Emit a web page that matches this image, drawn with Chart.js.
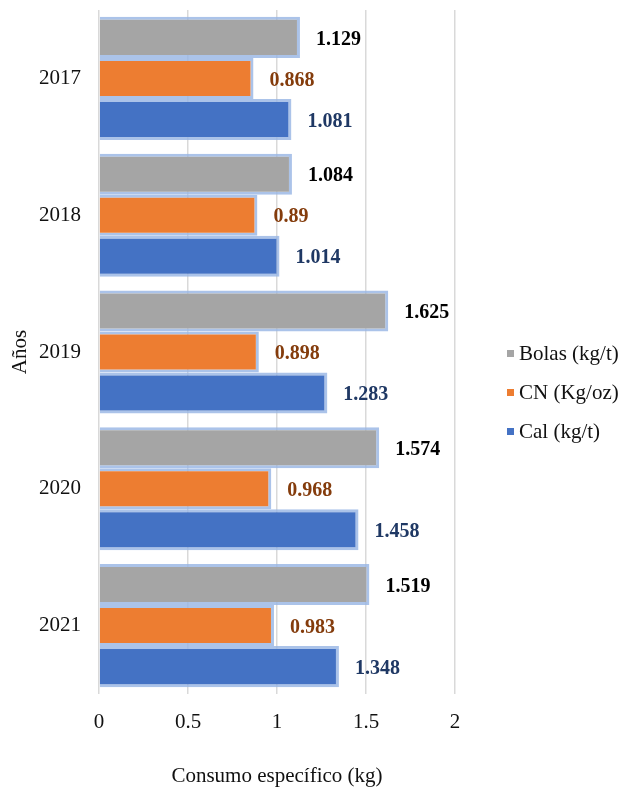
<!DOCTYPE html>
<html>
<head>
<meta charset="utf-8">
<script src="https://cdn.jsdelivr.net/npm/chart.js@4.4.1/dist/chart.umd.min.js"></script>
<style>
  html, body { margin: 0; padding: 0; background: #fff; }
</style>
</head>
<body>
<canvas id="chart" width="623" height="791"></canvas>
<script>
const years = ["2017", "2018", "2019", "2020", "2021"];
const bolas = [1.129, 1.084, 1.625, 1.574, 1.519];
const cn = [0.868, 0.89, 0.898, 0.968, 0.983];
const cal = [1.081, 1.014, 1.283, 1.458, 1.348];
const seriesNames = ["Bolas (kg/t)", "CN (Kg/oz)", "Cal (kg/t)"];
const barColors = ["#a5a5a5", "#ed7d31", "#4472c4"];
const labelColors = ["#000000", "#843c0c", "#1f3864"];

const SERIF = '"Liberation Serif", "Times New Roman", serif';

// ── value labels at bar ends ──────────────────────────────────────────────
const valueLabels = {
  id: "valueLabels",
  afterDatasetsDraw(chart) {
    const ctx = chart.ctx;
    ctx.save();
    ctx.font = "bold 20px " + SERIF;
    ctx.textAlign = "left";
    ctx.textBaseline = "middle";
    chart.data.datasets.forEach((ds, i) => {
      const meta = chart.getDatasetMeta(i);
      ctx.fillStyle = labelColors[i];
      meta.data.forEach((bar, j) => {
        ctx.fillText(String(ds.data[j]), bar.x + 16, bar.y + 2);
      });
    });
    ctx.restore();
  },
};

// ── legend on the right, centred on the page ─────────────────────────────
const sideLegend = {
  id: "sideLegend",
  afterDraw(chart) {
    const ctx = chart.ctx;
    ctx.save();
    ctx.font = "21px " + SERIF;
    ctx.textAlign = "left";
    ctx.textBaseline = "middle";
    chart.data.datasets.forEach((ds, i) => {
      const y = 353 + i * 39;
      ctx.fillStyle = barColors[i];
      ctx.fillRect(507, y - 3, 7, 7);
      ctx.fillStyle = "#111";
      ctx.fillText(ds.label, 519, y + 1);
    });
    ctx.restore();
  },
};

const glow = "rgba(150,180,228,0.8)";

new Chart(document.getElementById("chart"), {
  type: "bar",
  data: {
    labels: years,
    datasets: [
      { label: seriesNames[0], data: bolas, backgroundColor: barColors[0] },
      { label: seriesNames[1], data: cn, backgroundColor: barColors[1] },
      { label: seriesNames[2], data: cal, backgroundColor: barColors[2] },
    ].map((d) => ({
      ...d,
      borderColor: glow,
      borderWidth: 3,
      borderSkipped: "start",
      categoryPercentage: 0.9,
      barPercentage: 1.0,
    })),
  },
  plugins: [valueLabels, sideLegend],
  options: {
    indexAxis: "y",
    responsive: false,
    animation: false,
    layout: { padding: { top: 10, right: 168, bottom: 0, left: 0 } },
    plugins: {
      legend: { display: false },
      tooltip: { enabled: false },
    },
    scales: {
      x: {
        min: 0,
        max: 2,
        ticks: {
          stepSize: 0.5,
          padding: 16,
          color: "#111",
          font: { family: SERIF, size: 21 },
          callback: (v) => String(v),
        },
        grid: { color: "#d9d9d9", lineWidth: 1.5, drawTicks: false },
        border: { display: false },
        title: {
          display: true,
          text: "Consumo específico (kg)",
          color: "#111",
          font: { family: SERIF, size: 21 },
          padding: { top: 2, bottom: 2 },
        },
        afterFit: (s) => {
          s.height = 97;
          s.paddingLeft = 0;
          s.paddingRight = 0;
        },
      },
      y: {
        ticks: {
          padding: 18,
          color: "#111",
          font: { family: SERIF, size: 21 },
        },
        grid: { display: false, drawTicks: false },
        border: { display: false },
        title: {
          display: true,
          text: "Años",
          color: "#111",
          font: { family: SERIF, size: 21 },
          padding: { top: 8, bottom: 8 },
        },
        afterFit: (s) => {
          s.width = 99;
          s.paddingTop = 0;
          s.paddingBottom = 0;
        },
      },
    },
  },
});
</script>
</body>
</html>
